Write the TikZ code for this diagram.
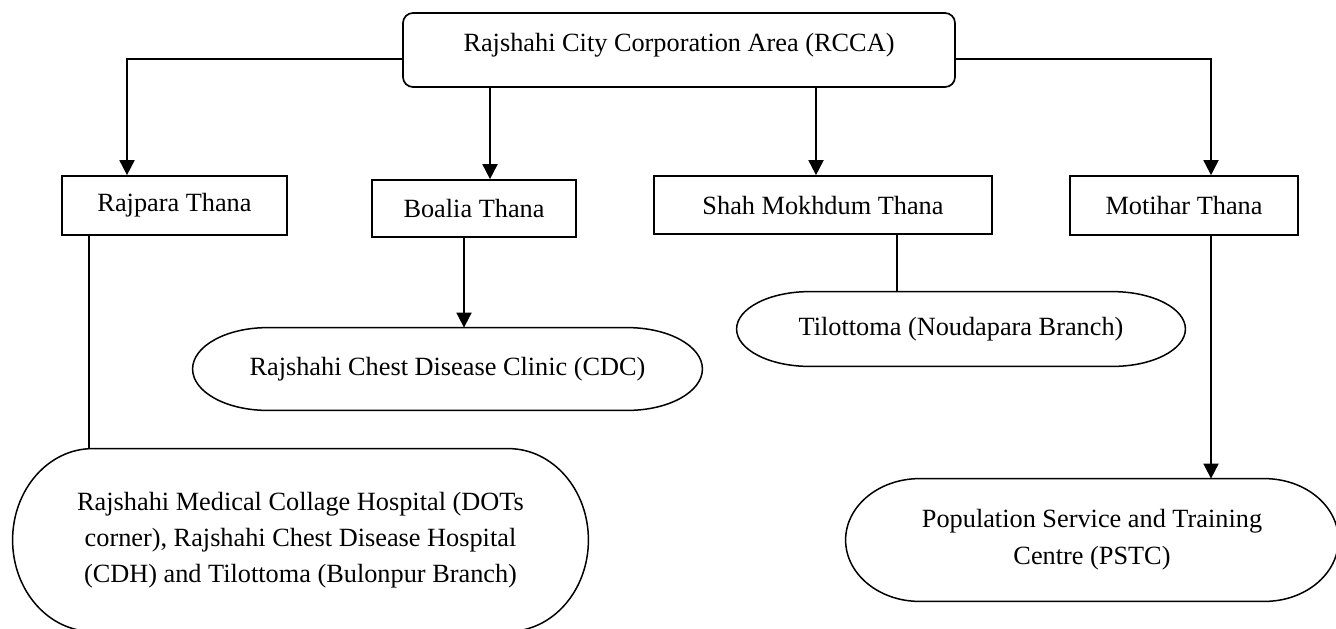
\documentclass[tikz,border=0pt]{standalone}
\usepackage{fontspec}
\setmainfont{Liberation Serif}
\usetikzlibrary{arrows.meta,calc}
\tikzset{
  basefont/.style={font=\fontsize{13.15}{14.15}\selectfont},
  thana/.style={draw, line width=0.85pt, inner sep=0pt, basefont},
  topbox/.style={draw, line width=0.85pt, rounded corners=5pt, inner sep=0pt, basefont,
    text height=9pt, text depth=7.4pt},
  stadtext/.style={inner sep=0pt, align=center, basefont},
  stadline/.style={line width=0.75pt},
  conn/.style={line width=0.9pt},
  arr/.style={conn, -{Triangle[length=7.5pt,width=7.5pt]}}
}
\newcommand{\stadiumoutline}[2]{%
  \draw[stadline] let \p1=(#1.north west), \p2=(#1.south east) in
    (\x1+#2,\y1) -- (\x2-#2,\y1)
    arc[start angle=90,end angle=-90,x radius=#2,y radius={(\y1-\y2)/2}]
    -- (\x1+#2,\y2)
    arc[start angle=270,end angle=90,x radius=#2,y radius={(\y1-\y2)/2}]
    -- cycle;}
\begin{document}
\begin{tikzpicture}[x=0.5pt,y=-0.5pt]
\useasboundingbox (0,0) rectangle (1336,628);

% top
\node[topbox, minimum width=276pt, minimum height=37pt] (top) at (679,50)
  {Rajshahi City Corporation Area (RCCA)};

% thanas
\node[thana, minimum width=112.5pt, minimum height=29.5pt] (raj) at (174.5,205.5) {Rajpara Thana};
\node[thana, minimum width=102pt, minimum height=28.5pt] (boa) at (474,208.5) {Boalia Thana};
\node[thana, minimum width=169pt, minimum height=29pt] (shah) at (823,205) {Shah Mokhdum Thana};
\node[thana, minimum width=114pt, minimum height=29.5pt] (mot) at (1184,205.5) {Motihar Thana};

% facilities
\node[stadtext, minimum width=254.5pt, minimum height=41pt] (cdc) at (447.5,369)
  {Rajshahi Chest Disease Clinic (CDC)};
\node[stadtext, minimum width=224pt, minimum height=37pt] (til) at (961,329)
  {Tilottoma (Noudapara Branch)};
\node[stadtext, minimum width=287.5pt, minimum height=91pt,
  font=\fontsize{13.15}{18}\selectfont] (med) at (300.5,540)
  {Rajshahi Medical Collage Hospital (DOTs\\corner), Rajshahi Chest Disease Hospital\\(CDH) and Tilottoma (Bulonpur Branch)};
\node[stadtext, minimum width=246pt, minimum height=61pt,
  font=\fontsize{13.15}{18.5}\selectfont] (pstc) at (1092,540)
  {Population Service and Training\\Centre (PSTC)};

\stadiumoutline{cdc}{37.5pt}
\stadiumoutline{til}{36.5pt}
\stadiumoutline{med}{40pt}
\stadiumoutline{pstc}{37pt}

% connectors from top
\coordinate (tl) at ([yshift=-4.5pt]top.west);
\coordinate (tr) at ([yshift=-4.5pt]top.east);
\draw[arr] (tl) -| ([xshift=-23.75pt]raj.north);
\draw[arr] (tr) -| ([xshift=13.5pt]mot.north);
\coordinate (tb) at ([xshift=-94.5pt]top.south);
\draw[arr] (tb) -- (tb |- boa.north);
\coordinate (ts) at ([xshift=68.5pt]top.south);
\draw[arr] (ts) -- (ts |- shah.north);

% connectors from thanas
\coordinate (rd) at ([xshift=-42.75pt]raj.south);
\draw[conn] (rd) -- (rd |- med.north);
\coordinate (bd) at ([xshift=-5pt]boa.south);
\draw[arr] (bd) -- (bd |- cdc.north);
\coordinate (sd) at ([xshift=37pt]shah.south);
\draw[conn] (sd) -- (sd |- til.north);
\coordinate (md) at ([xshift=13.5pt]mot.south);
\draw[arr] (md) -- (md |- pstc.north);
\end{tikzpicture}
\end{document}
